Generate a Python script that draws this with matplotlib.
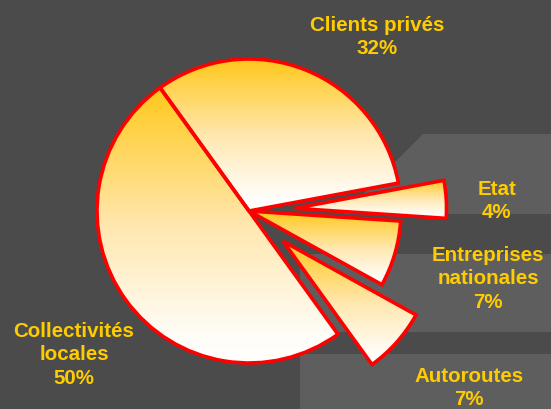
import numpy as np
import matplotlib
matplotlib.use("Agg")
import matplotlib.pyplot as plt
from matplotlib.colors import LinearSegmentedColormap
from matplotlib.patches import Polygon, PathPatch

labels = ["Clients privés", "Etat", "Entreprises\nnationales", "Autoroutes", "Collectivités\nlocales"]
values = [32, 4, 7, 7, 50]
explode = [0.0, 0.3, 0.0, 0.3, 0.0]

W, H = 551, 410
fig = plt.figure(figsize=(W / 100, H / 100), dpi=100)
fig.patch.set_facecolor("#4b4b4b")
ax = fig.add_axes([0, 0, 1, 1])
ax.set_facecolor("#4b4b4b")

def Y(y):
    return H - y

light = "#5e5e5e"
# decorative background bands
ax.add_patch(Polygon([(423, Y(135)), (W, Y(135)), (W, Y(215)), (343, Y(215))],
                     closed=True, fc=light, ec="none", zorder=0))
ax.add_patch(Polygon([(300, Y(255)), (W, Y(255)), (W, Y(333)), (300, Y(333))],
                     closed=True, fc=light, ec="none", zorder=0))
ax.add_patch(Polygon([(300, Y(355)), (W, Y(355)), (W, Y(H)), (300, Y(H))],
                     closed=True, fc=light, ec="none", zorder=0))

cx, cy, R = 249, Y(212), 152
wedges, _ = ax.pie(values, explode=[e * R for e in explode], startangle=125.8,
                   counterclock=False, center=(cx, cy), radius=R, normalize=True)

cmap = LinearSegmentedColormap.from_list(
    "g", [(0.0, "#ffc81a"), (0.5, "#ffe7ae"), (0.9, "#fffdf8"), (1.0, "#ffffff")])
grad = np.linspace(0, 1, 256).reshape(-1, 1)
for w in wedges:
    w.set_facecolor("none")
    w.set_edgecolor("none")
    bb = w.get_path().get_extents()
    im = ax.imshow(grad, cmap=cmap, aspect="auto", origin="upper",
                   extent=(bb.x0, bb.x1, bb.y0, bb.y1), zorder=2, interpolation="bilinear")
    im.set_clip_path(w)
    ax.add_patch(PathPatch(w.get_path(), fc="none", ec="#ff0000", lw=2.6,
                           joinstyle="miter", zorder=3))

label_pos = [(377, 37), (497, 201), (488, 279), (469, 388), (74, 355)]
for lab, v, (x, y) in zip(labels, values, label_pos):
    ax.text(x, Y(y), f"{lab}\n{v}%", color="#ffcc00", fontsize=14.8, fontweight="bold",
            family=["Liberation Sans", "DejaVu Sans"], ha="center", va="center",
            linespacing=1.32, zorder=4)

ax.set_xlim(0, W)
ax.set_ylim(0, H)
ax.set_aspect("auto")
ax.axis("off")
fig.savefig("out.png", dpi=100, facecolor=fig.get_facecolor())
